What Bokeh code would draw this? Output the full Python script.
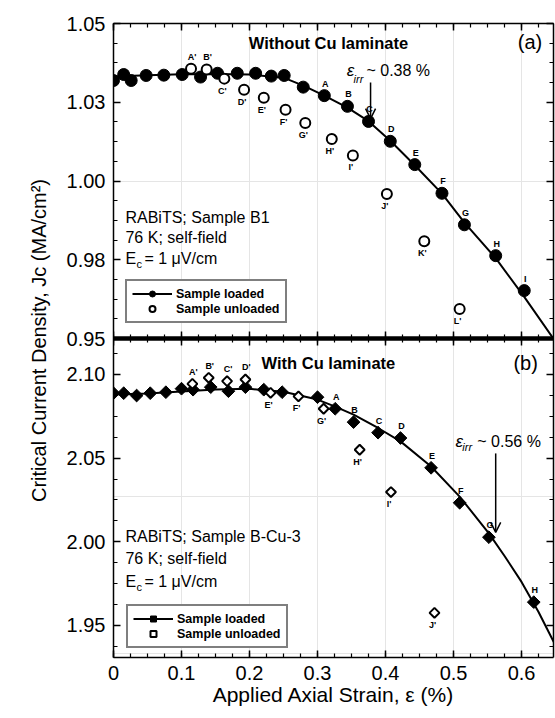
import numpy as np
from bokeh.plotting import figure
from bokeh.models import (ColumnDataSource, Range1d, LinearAxis, FixedTicker, Label,
                          LabelSet, Arrow, OpenHead, Legend, LegendItem)
from bokeh.embed import file_html
from bokeh.resources import INLINE
from bokeh.core.properties import value

FONT = "Liberation Sans"

# ---------------- panel (a): without Cu laminate ----------------
a_loaded_strain = [0.000, 0.015, 0.026, 0.048, 0.074, 0.101, 0.128, 0.153, 0.182, 0.209, 0.232,
                   0.251, 0.279, 0.310, 0.344, 0.375, 0.407, 0.443, 0.483, 0.516, 0.562, 0.604]
a_loaded_jc = [1.0319, 1.0338, 1.0319, 1.0335, 1.0336, 1.0338, 1.0330, 1.0342, 1.0342, 1.0342, 1.0333,
               1.0335, 1.0298, 1.0271, 1.0237, 1.0189, 1.0126, 1.0052, 0.9961, 0.9861, 0.9763, 0.9652]
a_loaded_tags = [""] * 13 + ["A", "B", "C", "D", "E", "F", "G", "H", "I"]

a_unloaded_strain = [0.114, 0.137, 0.163, 0.192, 0.221, 0.253, 0.282, 0.321, 0.352, 0.402, 0.457, 0.509]
a_unloaded_jc = [1.0356, 1.0354, 1.0325, 1.0290, 1.0264, 1.0226, 1.0184, 1.0133, 1.0081, 0.9959, 0.9809, 0.9594]
a_unloaded_tags = ["A'", "B'", "C'", "D'", "E'", "F'", "G'", "H'", "I'", "J'", "K'", "L'"]

a_fit_strain = [0.0, 0.05, 0.10, 0.15, 0.20, 0.25, 0.28, 0.31, 0.344, 0.375, 0.407, 0.443,
                0.483, 0.516, 0.562, 0.604, 0.65]
a_fit_jc = [1.0332, 1.0336, 1.0339, 1.0340, 1.0338, 1.0328, 1.0302, 1.0271, 1.0233, 1.0190, 1.0128, 1.0050,
            0.9960, 0.9868, 0.9755, 0.9632, 0.9490]
a_irr_strain = 0.378
a_irr_arrow_jc = [1.0313, 1.0198]

# ---------------- panel (b): with Cu laminate ----------------
b_loaded_strain = [0.000, 0.015, 0.034, 0.054, 0.077, 0.100, 0.117, 0.143, 0.169, 0.194, 0.221,
                   0.248, 0.300, 0.326, 0.353, 0.389, 0.422, 0.467, 0.509, 0.552, 0.618]
b_loaded_jc = [2.0888, 2.0888, 2.0874, 2.0888, 2.0894, 2.0915, 2.0909, 2.0924, 2.0900, 2.0924, 2.0909,
               2.0894, 2.0864, 2.0795, 2.0715, 2.0652, 2.0620, 2.0442, 2.0233, 2.0027, 1.9639]
b_loaded_tags = [""] * 13 + ["A", "B", "C", "D", "E", "F", "G", "H"]

b_unloaded_strain = [0.116, 0.140, 0.167, 0.194, 0.231, 0.272, 0.309, 0.362, 0.408, 0.472]
b_unloaded_jc = [2.0944, 2.0980, 2.0960, 2.0970, 2.0890, 2.0869, 2.0795, 2.0550, 2.0297, 1.9575]
b_unloaded_tags = ["A'", "B'", "C'", "D'", "E'", "F'", "G'", "H'", "I'", "J'"]

b_fit_strain = [0.0, 0.05, 0.10, 0.15, 0.20, 0.25, 0.30, 0.326, 0.353, 0.389, 0.422, 0.467,
                0.509, 0.552, 0.575, 0.60, 0.625, 0.65]
b_fit_jc = [2.0880, 2.0886, 2.0898, 2.0910, 2.0914, 2.0897, 2.0850, 2.0808, 2.0760, 2.0680, 2.0600, 2.0450,
            2.0270, 2.0050, 1.9915, 1.9760, 1.9580, 1.9380]
b_irr_strain = 0.562
b_irr_arrow_jc = [2.0528, 2.0056]

# ticks
x_major = [0.0, 0.1, 0.2, 0.3, 0.4, 0.5, 0.6]
x_labels = ["0", "0.1", "0.2", "0.3", "0.4", "0.5", "0.6"]
a_y_major = [0.95, 0.975, 1.0, 1.025, 1.05]
a_y_labels = ["0.95", "0.98", "1.00", "1.03", "1.05"]
b_y_major = [1.95, 2.0, 2.05, 2.1]
b_y_labels = ["1.95", "2.00", "2.05", "2.10"]

# panel value windows
a_lo, a_hi = 0.95, 1.05
b_lo, b_hi = 1.9308, 2.1215
x_lo, x_hi = 0.0, 0.647

# labels placed above the marker (others below)
a_unloaded_above = {"A'", "B'"}
b_unloaded_above = {"A'", "B'", "C'", "D'"}

# ---------------- layout constants ----------------
W = 555
H = 718
LEFT = 113
TOP = 23
BOTTOM = 61
FRAME_H = H - TOP - BOTTOM          # 634
TOP_PANEL_H = 315                    # pixels of the frame used by panel (a)

a_range = Range1d(a_hi - (a_hi - a_lo) * FRAME_H / TOP_PANEL_H, a_hi)
b_range = Range1d(b_lo, b_lo + (b_hi - b_lo) * FRAME_H / (FRAME_H - TOP_PANEL_H))


def a_of_b(v):
    """position of a panel-(b) value on the shared (a) scale"""
    return a_range.start + (v - b_range.start) * (a_range.end - a_range.start) / (b_range.end - b_range.start)


x_ticker = FixedTicker(ticks=x_major, minor_ticks=[round(0.025 * i, 4) for i in range(27)])
a_minor = [round(0.95 + 0.00625 * i, 5) for i in range(17)]
b_minor = [m for m in [round(1.9375 + 0.0125 * i, 5) for i in range(16)] if b_lo <= m <= b_hi]
y_tick_pos = a_y_major + [a_of_b(v) for v in b_y_major]
y_tick_txt = a_y_labels + b_y_labels
y_ticker = FixedTicker(ticks=y_tick_pos, minor_ticks=a_minor + [a_of_b(v) for v in b_minor])


def make_axis(ticker, ticks, labels=None, line_width=1.5, tick_out=0, **kw):
    ax = LinearAxis(ticker=ticker, **kw)
    ax.axis_line_width = line_width
    ax.axis_line_color = "black"
    ax.major_tick_in = 7
    ax.major_tick_out = tick_out
    ax.minor_tick_in = 4
    ax.minor_tick_out = 4 if tick_out else 0
    ax.major_tick_line_width = 1.5
    ax.minor_tick_line_width = 1.2
    ax.major_tick_line_color = "black"
    ax.minor_tick_line_color = "black"
    if labels is not None:
        ax.major_label_overrides = {t: l for t, l in zip(ticks, labels)}
        ax.major_label_text_font = FONT
        ax.major_label_text_font_size = "20px"
        ax.major_label_text_color = "black"
        ax.major_label_standoff = 8
    else:
        ax.major_label_overrides = {t: "" for t in ticks}
        ax.major_label_text_font_size = "0px"
        ax.major_label_standoff = 0
    return ax


p = figure(width=W, height=H, x_range=Range1d(x_lo, x_hi), y_range=a_range,
           extra_y_ranges={"b": b_range},
           toolbar_location=None, output_backend="svg",
           x_axis_location=None, y_axis_location=None,
           min_border_left=LEFT, min_border_right=2, min_border_top=TOP, min_border_bottom=BOTTOM)
p.outline_line_color = None
p.background_fill_color = "white"
p.border_fill_color = "white"

yl = make_axis(y_ticker, y_tick_pos, y_tick_txt)
yl.axis_label = "Critical Current Density, Jc (MA/cm²)"
yl.axis_label_text_font = FONT
yl.axis_label_text_font_size = "20px"
yl.axis_label_text_font_style = "normal"
yl.axis_label_text_color = "black"
yl.axis_label_standoff = 14
p.add_layout(yl, "left")
p.add_layout(make_axis(y_ticker, y_tick_pos), "right")
p.add_layout(make_axis(x_ticker, x_major), "above")
sep = make_axis(x_ticker, x_major, line_width=4.5, tick_out=7)
sep.fixed_location = a_lo
p.add_layout(sep, "below")
xb = make_axis(x_ticker, x_major, x_labels)
xb.major_label_standoff = 8
xb.axis_label = "Applied Axial Strain, ε (%)"
xb.axis_label_text_font = FONT
xb.axis_label_text_font_size = "21px"
xb.axis_label_text_font_style = "normal"
xb.axis_label_text_color = "black"
xb.axis_label_standoff = 0
p.add_layout(xb, "below")


def point_labels(xs, ys, tags, above_set, above_default, rng="default"):
    ax_, ay_, at_, bx_, by_, bt_ = [], [], [], [], [], []
    for x, y, t in zip(xs, ys, tags):
        if not t:
            continue
        if above_default or t in above_set:
            ax_.append(x); ay_.append(y); at_.append(t)
        else:
            bx_.append(x); by_.append(y); bt_.append(t)
    common = dict(text_font=value(FONT), text_font_size="9px", text_font_style="bold",
                  text_color="black", text_align="center", y_range_name=rng)
    if at_:
        p.add_layout(LabelSet(x="x", y="y", text="t", y_offset=7, x_offset=1,
                              text_baseline="bottom",
                              source=ColumnDataSource(dict(x=ax_, y=ay_, t=at_)), **common))
    if bt_:
        p.add_layout(LabelSet(x="x", y="y", text="t", y_offset=-7, x_offset=-2,
                              text_baseline="top",
                              source=ColumnDataSource(dict(x=bx_, y=by_, t=bt_)), **common))


def text(x, y, s, size, style="normal", align="left", baseline="middle", xo=0, yo=0, rng="default"):
    p.add_layout(Label(x=x, y=y, text=s, text_font=FONT, text_font_size=size,
                       text_font_style=style, text_align=align, text_baseline=baseline,
                       x_offset=xo, y_offset=yo, text_color="black", y_range_name=rng))


# ================= panel (a) =================
a_fit = p.line(a_fit_strain, a_fit_jc, line_color="black", line_width=2)
a_ld = p.scatter(a_loaded_strain, a_loaded_jc, marker="circle", size=12,
                 fill_color="black", line_color="black")
a_ul = p.scatter(a_unloaded_strain, a_unloaded_jc, marker="circle", size=10,
                 fill_color="white", line_color="black", line_width=2)
point_labels(a_loaded_strain, a_loaded_jc, a_loaded_tags, set(), True)
point_labels(a_unloaded_strain, a_unloaded_jc, a_unloaded_tags, a_unloaded_above, False)

p.add_layout(Arrow(end=OpenHead(size=10, line_width=1.5, line_color="black"),
                   x_start=a_irr_strain, y_start=a_irr_arrow_jc[0],
                   x_end=a_irr_strain, y_end=a_irr_arrow_jc[1],
                   line_width=1.5, line_color="black"))
text(0.343, 1.0351, "ε", "17px", style="italic")
text(0.353, 1.0325, "irr", "11px", style="italic")
text(0.372, 1.0351, "~ 0.38 %", "16px")

text(0.316, 1.0437, "Without Cu laminate", "16.5px", style="bold", align="center")
text(0.6125, 1.044, "(a)", "20px", align="center")
text(0.0176, 0.9884, "RABiTS; Sample B1", "16px")
text(0.0176, 0.9821, "76 K; self-field", "16px")
text(0.0176, 0.9754, "E", "16px")
text(0.0176, 0.9754, "c", "11px", xo=11, yo=-6)
text(0.0176, 0.9754, "= 1 μV/cm", "16px", xo=19)

leg1 = Legend(items=[LegendItem(label="Sample loaded", renderers=[a_fit, a_ld]),
                     LegendItem(label="Sample unloaded", renderers=[a_ul])],
              location=(12, FRAME_H - TOP_PANEL_H + 15))
p.add_layout(leg1)

# ================= panel (b) =================
b_fit = p.line(b_fit_strain, b_fit_jc, line_color="black", line_width=2, y_range_name="b")
b_ld = p.scatter(b_loaded_strain, b_loaded_jc, marker="square", angle=np.pi / 4, size=9,
                 fill_color="black", line_color="black", y_range_name="b")
b_ul = p.scatter(b_unloaded_strain, b_unloaded_jc, marker="square", angle=np.pi / 4, size=7,
                 fill_color="white", line_color="black", line_width=2, y_range_name="b")
point_labels(b_loaded_strain, b_loaded_jc, b_loaded_tags, set(), True, rng="b")
point_labels(b_unloaded_strain, b_unloaded_jc, b_unloaded_tags, b_unloaded_above, False, rng="b")

p.add_layout(Arrow(end=OpenHead(size=10, line_width=1.5, line_color="black"),
                   x_start=b_irr_strain, y_start=b_irr_arrow_jc[0],
                   x_end=b_irr_strain, y_end=b_irr_arrow_jc[1],
                   line_width=1.5, line_color="black", y_range_name="b"))
text(0.503, 2.0600, "ε", "17px", style="italic", rng="b")
text(0.513, 2.0564, "irr", "11px", style="italic", rng="b")
text(0.535, 2.0600, "~ 0.56 %", "16px", rng="b")

text(0.316, 2.1066, "With Cu laminate", "16.5px", style="bold", align="center", rng="b")
text(0.606, 2.1066, "(b)", "20px", align="center", rng="b")
text(0.0176, 2.0032, "RABiTS; Sample B-Cu-3", "16px", rng="b")
text(0.0176, 1.9900, "76 K; self-field", "16px", rng="b")
text(0.0176, 1.9763, "E", "16px", rng="b")
text(0.0176, 1.9763, "c", "11px", xo=11, yo=-6, rng="b")
text(0.0176, 1.9763, "= 1 μV/cm", "16px", xo=19, rng="b")

leg2 = Legend(items=[LegendItem(label="Sample loaded", renderers=[b_fit, b_ld]),
                     LegendItem(label="Sample unloaded", renderers=[b_ul])],
              location=(13, 9))
p.add_layout(leg2)

for lg in (leg1, leg2):
    lg.label_text_font = FONT
    lg.label_text_font_size = "12.5px"
    lg.label_text_font_style = "bold"
    lg.label_text_color = "black"
    lg.border_line_color = "black"
    lg.border_line_width = 2
    lg.background_fill_color = "white"
    lg.background_fill_alpha = 1
    lg.glyph_width = 40
    lg.glyph_height = 15
    lg.label_height = 15
    lg.label_standoff = 4
    lg.spacing = 0
    lg.padding = 5
    lg.margin = 0

open("out.html", "w").write(file_html(p, INLINE))
